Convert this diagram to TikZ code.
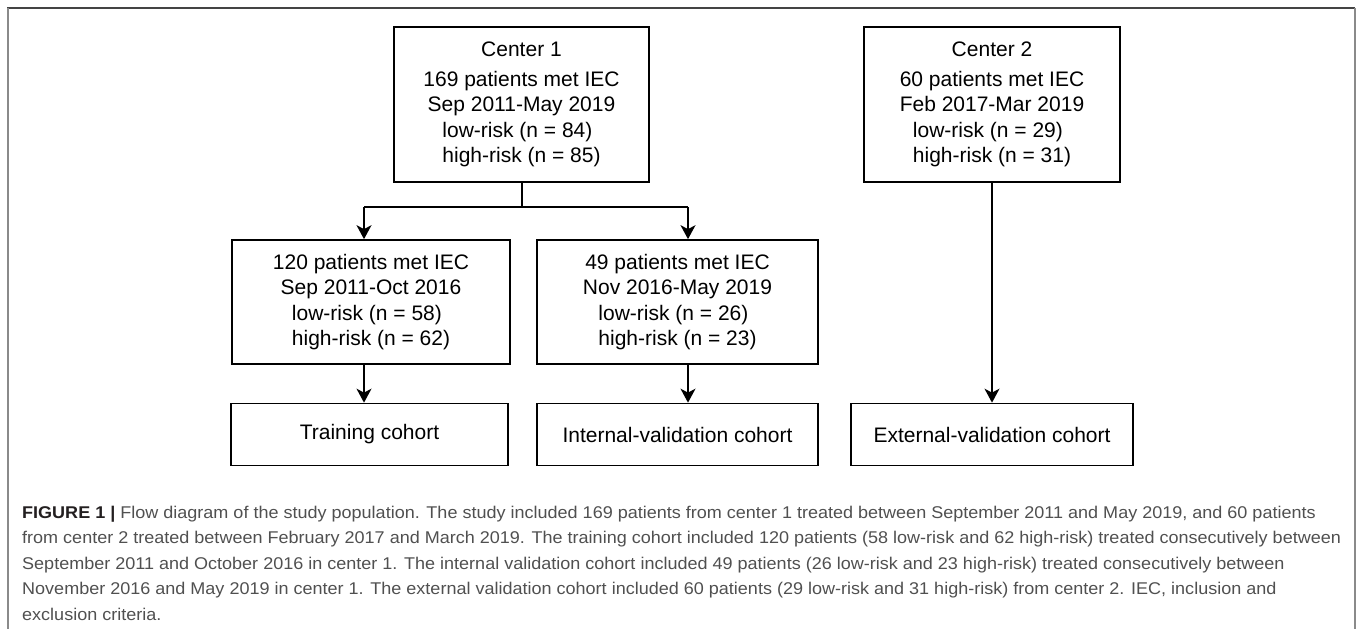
\documentclass[tikz,border=0pt]{standalone}
\usepackage{fontspec}
\usepackage{calc}
\setmainfont{Liberation Sans}
\newfontfamily\capfont{Liberation Sans}[FakeStretch=1.06]
\usetikzlibrary{arrows.meta}
\definecolor{captxt}{HTML}{505050}
\definecolor{capbold}{HTML}{231F20}
\definecolor{framedark}{HTML}{444444}
\definecolor{framelight}{HTML}{8A8A8A}
\newcommand{\risk}[2]{\makebox[\widthof{#2}][l]{#1}\\#2}
\begin{document}
\begin{tikzpicture}[x=1pt,y=-1pt,
  flowbox/.style={draw, line width=1.7pt, inner sep=0pt, align=center,
    font=\fontsize{21}{25.5}\selectfont},
  flowarr/.style={line width=1.7pt, -{Stealth[length=14pt,width=15pt,inset=4pt]}},
  flowline/.style={line width=1.7pt},
  capline/.style={anchor=base west, inner sep=0pt, text=captxt,
    font=\capfont\fontsize{17}{25.5}\selectfont}]
\useasboundingbox (0,0) rectangle (1357,629);
% frame
\draw[framedark, line width=1.5pt] (7,8) -- (1355,8);
\draw[framelight, line width=2pt] (7.5,8) -- (7.5,629);
\draw[framelight, line width=2pt] (1355,8) -- (1355,629);
% boxes
\node[flowbox, minimum width=255pt, minimum height=155pt] (c1) at (521.5,104.5)
  {Center 1\\[4.5pt]169 patients met IEC\\Sep 2011-May 2019\\\risk{low-risk (n = 84)}{high-risk (n = 85)}};
\node[flowbox, minimum width=256pt, minimum height=155pt] (c2) at (992,104.5)
  {Center 2\\[4.5pt]60 patients met IEC\\Feb 2017-Mar 2019\\\risk{low-risk (n = 29)}{high-risk (n = 31)}};
\node[flowbox, minimum width=278pt, minimum height=124pt] (b1) at (371,302)
  {120 patients met IEC\\Sep 2011-Oct 2016\\\risk{low-risk (n = 58)}{high-risk (n = 62)}};
\node[flowbox, minimum width=281pt, minimum height=124pt] (b2) at (677.5,302)
  {49 patients met IEC\\Nov 2016-May 2019\\\risk{low-risk (n = 26)}{high-risk (n = 23)}};
\node[flowbox, minimum width=277pt, minimum height=62pt] (t1) at (369.5,434.5) {Training cohort};
\node[flowbox, minimum width=281pt, minimum height=62pt] (t2) at (677.5,434.5) {Internal-validation cohort};
\node[flowbox, minimum width=282pt, minimum height=62pt] (t3) at (992,434.5) {External-validation cohort};
% connectors
\coordinate (jc) at (522,207);
\coordinate (jl) at (364,207);
\coordinate (jr) at (688,207);
\draw[flowline] (c1.south -| jc) -- (jc);
\draw[flowline] (jl) -- (jr);
\draw[flowarr] (jl) -- (jl |- b1.north);
\draw[flowarr] (jr) -- (jr |- b2.north);
\draw[flowarr] (b1.south -| jl) -- (t1.north -| jl);
\draw[flowarr] (b2.south -| jr) -- (t2.north -| jr);
\draw[flowarr] (c2.south) -- (t3.north);
% caption
\node[capline] (cap1) at (22,518) {{\color{capbold}\bfseries FIGURE 1 |} Flow diagram of the study population. The study included 169 patients from center 1 treated between September 2011 and May 2019, and 60 patients};
\node[capline] (cap2) at (22,543.5) {from center 2 treated between February 2017 and March 2019. The training cohort included 120 patients (58 low-risk and 62 high-risk) treated consecutively between};
\node[capline] (cap3) at (22,569) {September 2011 and October 2016 in center 1. The internal validation cohort included 49 patients (26 low-risk and 23 high-risk) treated consecutively between};
\node[capline] (cap4) at (22,594.5) {November 2016 and May 2019 in center 1. The external validation cohort included 60 patients (29 low-risk and 31 high-risk) from center 2. IEC, inclusion and};
\node[capline] (cap5) at (22,620) {exclusion criteria.};
\end{tikzpicture}
\end{document}
